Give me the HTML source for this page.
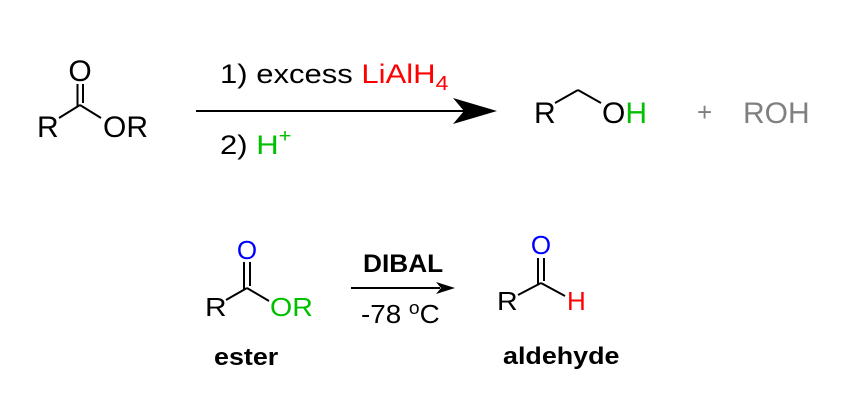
<!DOCTYPE html>
<html><head><style>
html,body{margin:0;padding:0;background:#fff;}
svg{display:block;font-family:"Liberation Sans",Arial,sans-serif;}
</style></head><body>
<svg width="865" height="406" viewBox="0 0 865 406" xmlns="http://www.w3.org/2000/svg">
<g stroke="#000" stroke-width="2" fill="none">
  <line x1="59" y1="118" x2="80" y2="105"/>
  <line x1="80" y1="105" x2="101" y2="118"/>
  <line x1="77.5" y1="84" x2="77.5" y2="106"/>
  <line x1="83" y1="84" x2="83" y2="103"/>
  <line x1="196" y1="111" x2="470" y2="111"/>
  <line x1="555" y1="103" x2="578" y2="90"/>
  <line x1="578" y1="90" x2="601" y2="103"/>
  <line x1="226" y1="300" x2="247" y2="288"/>
  <line x1="247" y1="288" x2="269" y2="301"/>
  <line x1="244" y1="262" x2="244" y2="289"/>
  <line x1="250" y1="262" x2="250" y2="286"/>
  <line x1="351" y1="288" x2="440" y2="288"/>
  <line x1="518" y1="295" x2="541" y2="283"/>
  <line x1="541" y1="283" x2="565" y2="296"/>
  <line x1="538" y1="258" x2="538" y2="284"/>
  <line x1="544" y1="258" x2="544" y2="281"/>
</g>
<polygon points="497,111 453,98 464,111 453,124" fill="#000"/>
<polygon points="455,288 436,282 441,288 436,294" fill="#000"/>
<g font-size="30">
  <text x="80" y="81" text-anchor="middle">O</text>
  <text x="37" y="137">R</text>
  <text x="103" y="137">OR</text>
  <text x="534" y="123">R</text>
  <text x="602" y="123">O<tspan fill="#00c000">H</tspan></text>
  <text x="697" y="121" fill="#808080" font-size="26">+</text>
  <text x="743" y="123" fill="#808080">ROH</text>
</g>
<g font-size="27">
  <text transform="translate(220,83) scale(1.15,1)">1) excess <tspan fill="#ff0000">LiAlH</tspan><tspan fill="#ff0000" font-size="20" dy="7">4</tspan></text>
  <text transform="translate(220,154) scale(1.15,1)">2) <tspan fill="#00c000">H</tspan><tspan fill="#00c000" font-size="19" dy="-12">+</tspan></text>
</g>
<g font-size="26">
  <text x="247" y="259" text-anchor="middle" fill="#0000ff">O</text>
  <text transform="translate(205,316) scale(1.15,1)">R</text>
  <text transform="translate(270,316) scale(1.1,1)" fill="#00c000">OR</text>
  <text x="541" y="254" text-anchor="middle" fill="#0000ff">O</text>
  <text transform="translate(497,310) scale(1.1,1)">R</text>
  <text x="567" y="310" fill="#ff0000">H</text>
</g>
<text transform="translate(363,272) scale(1.05,1)" font-size="25" font-weight="bold">DIBAL</text>
<text transform="translate(361,323) scale(1.07,1)" font-size="26">-78 <tspan font-size="18" dy="-9">o</tspan><tspan dy="9">C</tspan></text>
<text transform="translate(214,365) scale(1.12,1)" font-size="24" font-weight="bold">ester</text>
<text transform="translate(503,364) scale(1.12,1)" font-size="24" font-weight="bold">aldehyde</text>
</svg>
</body></html>
